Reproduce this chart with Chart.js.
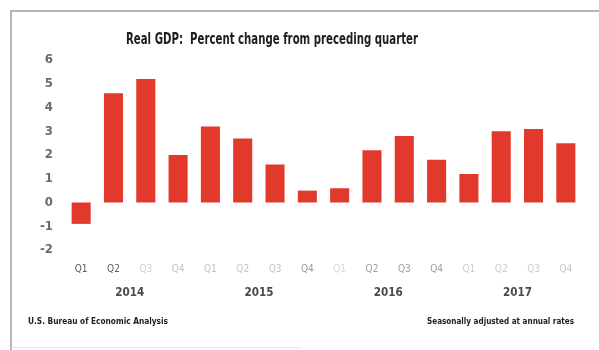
<!DOCTYPE html>
<html>
<head>
<meta charset="utf-8">
<script src="https://cdn.jsdelivr.net/npm/chart.js@4.4.1/dist/chart.umd.min.js"></script>
<style>
  html, body { margin: 0; padding: 0; background: #fff; }
  #wrap { width: 599px; height: 350px; position: relative; }
</style>
</head>
<body>
<div id="wrap"><canvas id="gdpChart" width="599" height="350"></canvas></div>
<script>
// ----------------------------------------------------------
// DATA
// ----------------------------------------------------------
const quarters = ["Q1", "Q2", "Q3", "Q4", "Q1", "Q2", "Q3", "Q4",
                  "Q1", "Q2", "Q3", "Q4", "Q1", "Q2", "Q3", "Q4"];
const years = ["2014", "2015", "2016", "2017"];
const gdpChange = [-0.9, 4.6, 5.2, 2.0, 3.2, 2.7, 1.6, 0.5,
                   0.6, 2.2, 2.8, 1.8, 1.2, 3.0, 3.1, 2.5];
const yTicks = [-2, -1, 0, 1, 2, 3, 4, 5, 6];

const titleText = "Real GDP:  Percent change from preceding quarter";
const sourceText = "U.S. Bureau of Economic Analysis";
const noteText = "Seasonally adjusted at annual rates";

// quarter labels print unevenly
const quarterColors = ["#5a5a5a", "#5a5a5a", "#cfcfcf", "#c4c4c4",
                       "#c4c4c4", "#c4c4c4", "#c4c4c4", "#9a9a9a",
                       "#dadada", "#a0a0a0", "#a0a0a0", "#a0a0a0",
                       "#cccccc", "#cccccc", "#cccccc", "#c8c8c8"];

const NARROW = "'Liberation Sans Narrow', 'DejaVu Sans Condensed', 'Liberation Sans', sans-serif";

// ----------------------------------------------------------
// FRAME, TITLE, YEARS AND FOOTNOTES
// ----------------------------------------------------------
const decorations = {
    id: "decorations",
    beforeDraw(chart) {
        const ctx = chart.ctx;
        ctx.save();
        ctx.strokeStyle = "#b5b5b5";
        ctx.lineWidth = 2;
        ctx.beginPath();
        ctx.moveTo(11, 350);
        ctx.lineTo(11, 11);
        ctx.lineTo(599, 11);
        ctx.stroke();
        ctx.strokeStyle = "#e6e6e6";
        ctx.lineWidth = 1;
        ctx.beginPath();
        ctx.moveTo(11, 347.5);
        ctx.lineTo(300, 347.5);
        ctx.stroke();
        ctx.restore();
    },
    afterDraw(chart) {
        const ctx = chart.ctx;
        const x = chart.scales.x;
        ctx.save();
        ctx.textBaseline = "middle";
        ctx.textAlign = "center";

        ctx.fillStyle = "#1e1e1e";
        ctx.font = "bold 15px " + NARROW;
        ctx.fillText(titleText, 272, 40, 292);

        ctx.fillStyle = "#4a4a4a";
        ctx.font = "bold 13px " + NARROW;
        years.forEach((y, i) => {
            const cx = (x.getPixelForValue(i * 4 + 1) + x.getPixelForValue(i * 4 + 2)) / 2;
            ctx.fillText(y, cx, 293, 29);
        });

        ctx.fillStyle = "#222";
        ctx.font = "bold 9px " + NARROW;
        ctx.textAlign = "left";
        ctx.fillText(sourceText, 28, 322, 140);
        ctx.textAlign = "right";
        ctx.fillText(noteText, 574, 322, 147);
        ctx.restore();
    }
};

// ----------------------------------------------------------
// CHART
// ----------------------------------------------------------
const ctx = document.getElementById("gdpChart").getContext("2d");
new Chart(ctx, {
    type: "bar",
    data: {
        labels: quarters,
        datasets: [{
            label: "Percent change",
            data: gdpChange,
            backgroundColor: "#e2392d",
            borderWidth: 0,
            barPercentage: 0.59,
            categoryPercentage: 1.0
        }]
    },
    options: {
        responsive: false,
        animation: false,
        layout: { padding: { top: 60, right: 17, left: 0, bottom: 0 } },
        plugins: {
            legend: { display: false },
            title: { display: false },
            tooltip: { enabled: false }
        },
        scales: {
            x: {
                grid: { display: false, drawTicks: false },
                border: { display: false },
                ticks: {
                    padding: 13,
                    font: { family: NARROW, size: 10 },
                    color: c => quarterColors[c.index],
                    maxRotation: 0,
                    autoSkip: false
                },
                afterFit: s => { s.height = 100; }
            },
            y: {
                min: yTicks[0],
                max: yTicks[yTicks.length - 1],
                grid: { display: false, drawTicks: false },
                border: { display: false },
                afterBuildTicks: s => { s.ticks = yTicks.map(v => ({ value: v })); },
                ticks: {
                    padding: 12,
                    font: { family: NARROW, size: 13, weight: "bold" },
                    color: "#6a6a6a"
                },
                afterFit: s => { s.width = 65; }
            }
        }
    },
    plugins: [decorations]
});
</script>
</body>
</html>
